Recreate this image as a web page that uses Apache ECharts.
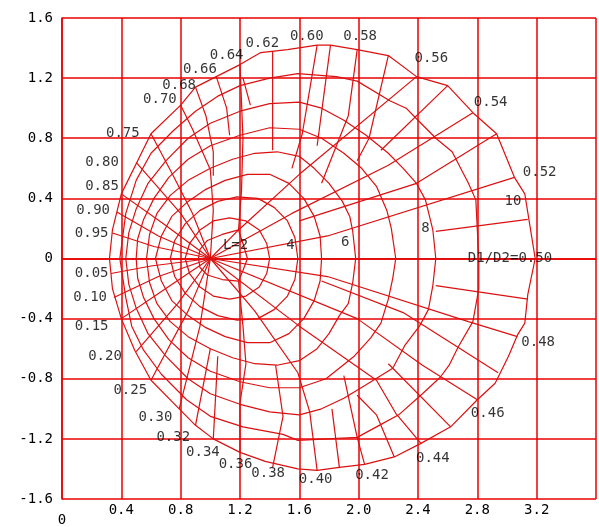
<!DOCTYPE html>
<html>
<head>
<meta charset="utf-8">
<script src="https://cdn.jsdelivr.net/npm/echarts@6/dist/echarts.min.js"></script>
<style>
html, body { margin: 0; padding: 0; background: #fff; }
#chart { width: 599px; height: 527px; }
</style>
</head>
<body>
<div id="chart"></div>
<script>
// 等值曲线 L（闭合）
var contourL2 = [[1.25,0],[1.22,0.1],[1.19,0.19],[1.08,0.16],[0.98,0.12],[0.93,0.06],[0.92,0],[0.93,-0.06],[0.98,-0.11],[1.08,-0.14],[1.19,-0.15],[1.22,-0.08],[1.25,0]];
var contourL3 = [[1.4,0],[1.38,0.1],[1.33,0.19],[1.24,0.25],[1.13,0.27],[1.02,0.25],[0.93,0.19],[0.86,0.1],[0.83,0],[0.86,-0.1],[0.93,-0.19],[1.02,-0.25],[1.13,-0.27],[1.24,-0.25],[1.33,-0.19],[1.38,-0.1],[1.4,0]];
var contourL4 = [[1.59,0],[1.57,0.14],[1.52,0.25],[1.43,0.34],[1.32,0.4],[1.18,0.41],[1.05,0.38],[0.93,0.32],[0.83,0.23],[0.76,0.12],[0.73,0],[0.76,-0.12],[0.83,-0.23],[0.93,-0.32],[1.05,-0.38],[1.18,-0.41],[1.32,-0.4],[1.43,-0.34],[1.52,-0.25],[1.57,-0.14],[1.59,0]];
var contourL5 = [[1.75,0],[1.74,0.15],[1.7,0.28],[1.63,0.4],[1.53,0.5],[1.4,0.56],[1.25,0.56],[1.1,0.52],[0.97,0.46],[0.85,0.38],[0.74,0.28],[0.67,0.15],[0.63,0],[0.67,-0.15],[0.74,-0.28],[0.85,-0.38],[0.97,-0.46],[1.1,-0.52],[1.25,-0.56],[1.4,-0.56],[1.53,-0.5],[1.63,-0.4],[1.7,-0.28],[1.74,-0.15],[1.75,0]];
var contourL6 = [[1.98,0],[1.96,0.18],[1.94,0.28],[1.89,0.38],[1.8,0.5],[1.7,0.6],[1.6,0.68],[1.45,0.71],[1.3,0.7],[1.15,0.66],[1.0,0.6],[0.85,0.52],[0.73,0.42],[0.64,0.3],[0.59,0.16],[0.57,0],[0.59,-0.16],[0.64,-0.3],[0.73,-0.42],[0.85,-0.52],[1.0,-0.6],[1.15,-0.66],[1.3,-0.7],[1.45,-0.71],[1.6,-0.68],[1.72,-0.6],[1.8,-0.5],[1.87,-0.38],[1.93,-0.3],[1.96,-0.16],[1.98,0]];
var contourL7 = [[2.25,0],[2.22,0.2],[2.19,0.32],[2.12,0.48],[2.02,0.6],[1.9,0.7],[1.75,0.8],[1.6,0.86],[1.4,0.87],[1.2,0.82],[1.0,0.75],[0.85,0.66],[0.72,0.54],[0.62,0.4],[0.55,0.26],[0.51,0.13],[0.5,0],[0.51,-0.13],[0.55,-0.26],[0.62,-0.4],[0.72,-0.54],[0.85,-0.66],[1.0,-0.75],[1.2,-0.82],[1.4,-0.86],[1.6,-0.86],[1.78,-0.8],[1.97,-0.65],[2.08,-0.53],[2.15,-0.43],[2.2,-0.27],[2.23,-0.13],[2.25,0]];
var contourL8 = [[2.52,0],[2.5,0.19],[2.45,0.39],[2.39,0.5],[2.3,0.6],[2.2,0.7],[2.05,0.82],[1.9,0.92],[1.75,1.0],[1.6,1.04],[1.4,1.03],[1.2,0.98],[1.0,0.9],[0.85,0.8],[0.7,0.65],[0.58,0.5],[0.5,0.33],[0.45,0.17],[0.43,0],[0.45,-0.17],[0.5,-0.33],[0.58,-0.5],[0.7,-0.65],[0.85,-0.8],[1.0,-0.9],[1.2,-0.97],[1.4,-1.02],[1.6,-1.04],[1.75,-1.0],[1.9,-0.93],[2.05,-0.84],[2.23,-0.73],[2.31,-0.58],[2.41,-0.45],[2.47,-0.34],[2.5,-0.18],[2.52,0]];
var contourL9 = [[2.81,0],[2.8,0.19],[2.79,0.39],[2.74,0.5],[2.63,0.71],[2.52,0.8],[2.4,0.92],[2.32,1.0],[2.21,1.05],[1.99,1.18],[1.85,1.21],[1.59,1.23],[1.4,1.2],[1.2,1.15],[1.05,1.08],[0.9,0.98],[0.75,0.85],[0.6,0.7],[0.5,0.52],[0.43,0.3],[0.39,0],[0.43,-0.26],[0.47,-0.45],[0.55,-0.61],[0.67,-0.77],[0.84,-0.94],[1.0,-1.05],[1.22,-1.12],[1.49,-1.17],[1.59,-1.21],[1.99,-1.19],[2.12,-1.12],[2.27,-1.04],[2.43,-0.9],[2.55,-0.79],[2.61,-0.71],[2.67,-0.59],[2.77,-0.42],[2.81,-0.2],[2.81,0]];
var contourL10 = [[3.19,0],[3.12,0.43],[3.05,0.54],[2.93,0.83],[2.77,0.97],[2.6,1.15],[2.39,1.21],[2.2,1.35],[1.99,1.39],[1.81,1.42],[1.72,1.42],[1.52,1.39],[1.34,1.37],[1.2,1.29],[1.04,1.21],[0.9,1.14],[0.8,1.02],[0.6,0.83],[0.4,0.43],[0.34,0.19],[0.32,0],[0.34,-0.2],[0.4,-0.4],[0.49,-0.61],[0.6,-0.81],[0.79,-1.0],[0.9,-1.11],[1.02,-1.2],[1.2,-1.29],[1.37,-1.35],[1.59,-1.4],[1.72,-1.41],[1.87,-1.39],[2.04,-1.37],[2.24,-1.32],[2.42,-1.23],[2.62,-1.12],[2.8,-0.94],[2.92,-0.83],[3.01,-0.65],[3.07,-0.51],[3.12,-0.43],[3.14,-0.24],[3.19,0]];

// D1/D2 径向线（上半部）
var radialsUpper = [
    [[1.0,0],[3.19,0]],
    [[1.0,0],[1.79,0.15],[3.05,0.54]],
    [[2.52,0.18],[3.14,0.26]],
    [[1.6,0.25],[2.39,0.5],[2.93,0.83]],
    [[1.0,0],[1.55,0.3],[2.2,0.62],[2.77,0.97]],
    [[2.15,0.72],[2.6,1.15]],
    [[1.0,0],[1.19,0.19],[1.6,0.56],[2.39,1.21]],
    [[1.99,0.65],[2.07,0.8],[2.2,1.35]],
    [[1.75,0.5],[1.93,0.95],[1.99,1.39]],
    [[1.72,0.75],[1.81,1.42]],
    [[1.55,0.6],[1.62,0.83],[1.72,1.42]],
    [[1.42,0.72],[1.42,1.38]],
    [[1.19,0.19],[1.21,0.45],[1.22,0.8],[1.2,1.29]],
    [[1.27,1.02],[1.22,1.2]],
    [[1.13,0.82],[1.11,1.0],[1.04,1.21]],
    [[1.02,0.55],[1.02,0.71],[0.97,0.95],[0.9,1.14]],
    [[1.0,0],[1.02,0.32],[1.0,0.59],[0.88,0.86],[0.8,1.02]],
    [[1.0,0],[0.88,0.3],[0.75,0.55],[0.6,0.83]],
    [[1.0,0],[0.8,0.3],[0.5,0.64]],
    [[1.0,0],[0.7,0.22],[0.4,0.43]],
    [[1.0,0],[0.65,0.15],[0.37,0.31]],
    [[1.0,0],[0.62,0.08],[0.34,0.17]]
];

// D1/D2 径向线（下半部）
var radialsLower = [
    [[1.0,0],[0.6,-0.05],[0.33,-0.1]],
    [[1.0,0],[0.65,-0.12],[0.35,-0.26]],
    [[1.0,0],[0.7,-0.2],[0.4,-0.4]],
    [[1.0,0],[0.78,-0.3],[0.5,-0.62]],
    [[1.0,0],[0.85,-0.35],[0.6,-0.81]],
    [[1.0,0],[0.93,-0.45],[0.79,-1.0]],
    [[1.0,-0.6],[0.9,-1.11]],
    [[1.05,-0.65],[1.02,-1.2]],
    [[1.19,-0.15],[1.22,-0.45],[1.24,-0.7],[1.2,-0.96],[1.2,-1.29]],
    [[1.44,-0.71],[1.49,-1.05],[1.42,-1.39]],
    [[1.0,0],[1.3,-0.35],[1.59,-0.76],[1.67,-1.02],[1.72,-1.41]],
    [[1.82,-1.0],[1.87,-1.39]],
    [[1.9,-0.78],[1.99,-1.19],[2.04,-1.37]],
    [[1.99,-0.91],[2.12,-1.04],[2.24,-1.32]],
    [[1.0,0],[1.6,-0.45],[2.12,-0.81],[2.25,-1.03],[2.42,-1.23]],
    [[2.2,-0.7],[2.62,-1.12]],
    [[1.0,0],[1.99,-0.4],[2.43,-0.71],[2.8,-0.94]],
    [[1.75,-0.15],[2.3,-0.36],[2.94,-0.76]],
    [[1.0,0],[1.79,-0.12],[2.74,-0.42],[3.07,-0.52]],
    [[2.52,-0.18],[3.14,-0.27]]
];

// 标注文字
var labelText = ['0.60','0.62','0.64','0.66','0.68','0.70','0.75','0.80','0.85','0.90','0.95',
                 '0.05','0.10','0.15','0.20','0.25','0.30','0.32','0.34','0.36','0.38','0.40',
                 '0.42','0.44','0.46','0.48','D1/D2=0.50','0.52','0.54','0.56','0.58',
                 'L=2','4','6','8','10'];
var labelX = [1.65,1.35,1.11,0.93,0.79,0.66,0.41,0.27,0.27,0.21,0.2,
              0.2,0.19,0.2,0.29,0.46,0.63,0.75,0.95,1.17,1.39,1.71,
              2.09,2.5,2.87,3.21,3.02,3.22,2.89,2.49,2.01,
              1.17,1.54,1.91,2.45,3.04];
var labelY = [1.48,1.43,1.35,1.26,1.15,1.06,0.83,0.64,0.48,0.32,0.17,
              -0.1,-0.26,-0.45,-0.65,-0.88,-1.06,-1.19,-1.29,-1.37,-1.43,-1.47,
              -1.44,-1.33,-1.03,-0.56,0,0.57,1.04,1.33,1.48,
              0.09,0.09,0.11,0.2,0.38];

var textFont = 'DejaVu Sans Mono';
var meshColor = '#dc1010';
var gridColor = '#e80000';

var myChart = echarts.init(document.getElementById('chart'));

var series = [];
[contourL2, contourL3, contourL4, contourL5, contourL6, contourL7, contourL8, contourL9, contourL10]
    .concat(radialsUpper, radialsLower)
    .forEach(function(pts) {
        series.push({
            type: 'line',
            data: pts,
            symbol: 'none',
            silent: true,
            animation: false,
            lineStyle: { color: meshColor, width: 1.2 }
        });
    });

series.push({
    type: 'scatter',
    symbolSize: 0,
    silent: true,
    z: 5,
    data: labelText.map(function(t, i) {
        return { name: t, value: [labelX[i], labelY[i]] };
    }),
    label: {
        show: true,
        position: 'inside',
        formatter: '{b}',
        color: '#000',
        fontFamily: textFont,
        fontSize: 14
    }
});

var option = {
    animation: false,
    grid: { left: 62, top: 18, width: 539, height: 485 },
    xAxis: {
        type: 'value',
        min: 0,
        max: 3.6,
        interval: 0.4,
        axisLine: { show: true, lineStyle: { color: gridColor, width: 1.5 } },
        axisTick: { show: false },
        splitLine: { show: true, lineStyle: { color: gridColor, width: 1.5 } },
        axisLabel: {
            color: '#000',
            fontFamily: textFont,
            fontSize: 14,
            margin: 4,
            formatter: function(v) {
                if (v === 0) return '{z|0}';
                if (v > 3.3) return '';
                return v.toFixed(1);
            },
            rich: { z: { padding: [10, 0, 0, 0], fontFamily: textFont, fontSize: 14, color: '#000' } }
        }
    },
    yAxis: {
        type: 'value',
        min: -1.6,
        max: 1.6,
        interval: 0.4,
        axisLine: { show: true, lineStyle: { color: gridColor, width: 1.5 } },
        axisTick: { show: false },
        splitLine: { show: true, lineStyle: { color: gridColor, width: 1.5 } },
        axisLabel: {
            color: '#000',
            fontFamily: textFont,
            fontSize: 14,
            margin: 9,
            formatter: function(v) {
                return v === 0 ? '0' : v.toFixed(1);
            }
        }
    },
    series: series
};

myChart.setOption(option);
</script>
</body>
</html>
